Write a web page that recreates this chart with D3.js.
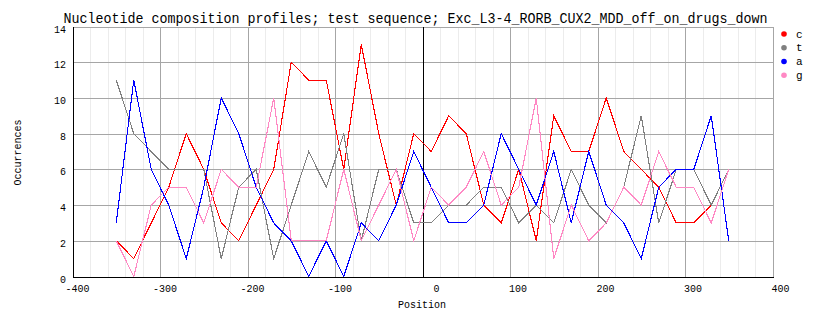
<!DOCTYPE html>
<html>
<head>
<meta charset="utf-8">
<script src="https://cdn.jsdelivr.net/npm/d3@7"></script>
<style>
  html, body { margin: 0; padding: 0; background: #fff; }
  svg { display: block; }
  text { font-family: "Liberation Mono", "DejaVu Sans Mono", monospace; fill: #000; }
</style>
</head>
<body>
<svg id="chart" width="828" height="328"></svg>
<script>
// ---- data ----
const title = "Nucleotide composition profiles; test sequence; Exc_L3-4_RORB_CUX2_MDD_off_on_drugs_down";
const xLabel = "Position";
const yLabel = "Occurrences";
const positions = [-350,-330,-310,-290,-270,-250,-230,-210,-190,-170,-150,-130,-110,-90,-70,-50,-30,-10,
                   10,30,50,70,90,110,130,150,170,190,210,230,250,270,290,310,330,350];
const seriesNames = ["c", "t", "a", "g"];
const cValues = [2,1,3,5,8,6,3,2,4,6,12,11,11,6,13,8,4,8,7,9,8,4,3,6,2,9,7,7,10,7,6,5,3,3,4,6];
const tValues = [11,8,7,6,6,6,1,5,6,1,4,7,5,8,2,6,6,3,3,4,4,5,5,3,4,3,6,4,3,5,9,3,6,6,4,6];
const aValues = [3,11,6,4,1,5,10,8,5,3,2,0,2,0,3,2,4,7,5,3,3,4,8,6,4,7,3,7,4,3,1,5,6,6,9,2];
const gValues = [2,0,4,5,5,3,6,5,5,10,2,2,2,6,2,4,6,2,5,4,5,7,4,5,10,1,4,2,3,5,4,7,5,5,3,6];
const seriesColors = ["#ff0000", "#808080", "#0000ff", "#ff88c4"];
const xTicks = [-400,-300,-200,-100,0,100,200,300,400];
const xMinorTicks = [-380,-360,-340,-320,-280,-260,-240,-220,-180,-160,-140,-120,-80,-60,-40,-20,
                     20,40,60,80,120,140,160,180,220,240,260,280,320,340,360,380];
const yTicks = [0,2,4,6,8,10,12,14];

// ---- chart ----
const svg = d3.select("#chart");
const x = d3.scaleLinear().domain([-400, 400]).range([72.5, 772.5]);
const y = d3.scaleLinear().domain([0, 14]).range([276.5, 26.5]);

const series = [cValues, tValues, aValues, gValues].map((vals, k) => ({
  name: seriesNames[k], color: seriesColors[k],
  points: vals.map((v, i) => ({ x: positions[i], y: v }))
}));

const grid = svg.append("g").attr("shape-rendering", "crispEdges");
// minor vertical grid
grid.selectAll("line.minor").data(xMinorTicks).enter().append("line")
  .attr("x1", d => Math.round(x(d)) + 0.5).attr("x2", d => Math.round(x(d)) + 0.5)
  .attr("y1", y(14)).attr("y2", y(0))
  .attr("stroke", "#ececec").attr("stroke-width", 1);
// major horizontal grid
grid.selectAll("line.hy").data(yTicks).enter().append("line")
  .attr("x1", x(-400)).attr("x2", x(400))
  .attr("y1", d => Math.round(y(d)) + 0.5).attr("y2", d => Math.round(y(d)) + 0.5)
  .attr("stroke", "#a6a6a6").attr("stroke-width", 1);
// major vertical grid
grid.selectAll("line.vx").data(xTicks).enter().append("line")
  .attr("x1", d => Math.round(x(d)) + 0.5).attr("x2", d => Math.round(x(d)) + 0.5)
  .attr("y1", y(14)).attr("y2", y(0))
  .attr("stroke", "#a6a6a6").attr("stroke-width", 1);

// axes lines (black): left, bottom, x=0
const axes = svg.append("g").attr("shape-rendering", "crispEdges");
axes.append("line").attr("x1", Math.round(x(-400)) + 0.5).attr("x2", Math.round(x(-400)) + 0.5)
  .attr("y1", y(14)).attr("y2", Math.round(y(0)) + 1).attr("stroke", "#000");
axes.append("line").attr("x1", x(-400)).attr("x2", x(400) + 1)
  .attr("y1", Math.round(y(0)) + 0.5).attr("y2", Math.round(y(0)) + 0.5).attr("stroke", "#000");
axes.append("line").attr("x1", Math.round(x(0)) + 0.5).attr("x2", Math.round(x(0)) + 0.5)
  .attr("y1", y(14)).attr("y2", y(0)).attr("stroke", "#000");

// series lines
const line = d3.line().x(d => x(d.x)).y(d => y(d.y));
svg.append("g").selectAll("path").data(series).enter().append("path")
  .attr("d", d => line(d.points))
  .attr("fill", "none")
  .attr("stroke", d => d.color)
  .attr("stroke-width", 1.1)
  .attr("shape-rendering", "optimizeSpeed");

// x tick labels (right aligned slightly right of tick, like the original)
svg.append("g").selectAll("text").data(xTicks).enter().append("text")
  .attr("x", d => x(d) + 17).attr("y", 291.5)
  .attr("text-anchor", "end")
  .attr("font-size", 11)
  .attr("textLength", d => String(d).length * 6)
  .attr("lengthAdjust", "spacingAndGlyphs")
  .text(d => d);

// y tick labels
svg.append("g").selectAll("text").data(yTicks).enter().append("text")
  .attr("x", 66).attr("y", d => y(d) + 6)
  .attr("text-anchor", "end")
  .attr("font-size", 11)
  .attr("textLength", d => String(d).length * 6)
  .attr("lengthAdjust", "spacingAndGlyphs")
  .text(d => d);

// title
svg.append("text")
  .attr("x", 415.5).attr("y", 22.5)
  .attr("text-anchor", "middle")
  .attr("font-size", 14)
  .attr("textLength", title.length * 8)
  .attr("lengthAdjust", "spacingAndGlyphs")
  .text(title);

// x label
svg.append("text")
  .attr("x", 422).attr("y", 308)
  .attr("text-anchor", "middle")
  .attr("font-size", 11)
  .attr("textLength", xLabel.length * 6)
  .attr("lengthAdjust", "spacingAndGlyphs")
  .text(xLabel);

// y label
svg.append("text")
  .attr("transform", "translate(21,152.5) rotate(-90)")
  .attr("text-anchor", "middle")
  .attr("font-size", 11)
  .attr("textLength", yLabel.length * 6)
  .attr("lengthAdjust", "spacingAndGlyphs")
  .text(yLabel);

// legend
const legend = svg.append("g").selectAll("g").data(series).enter().append("g")
  .attr("transform", (d, i) => `translate(784,${34 + i * 13.75})`);
legend.append("circle").attr("r", 2.8).attr("fill", d => d.color);
legend.append("text").attr("x", 12).attr("y", 3.5)
  .attr("font-size", 11).text(d => d.name);
</script>
</body>
</html>
